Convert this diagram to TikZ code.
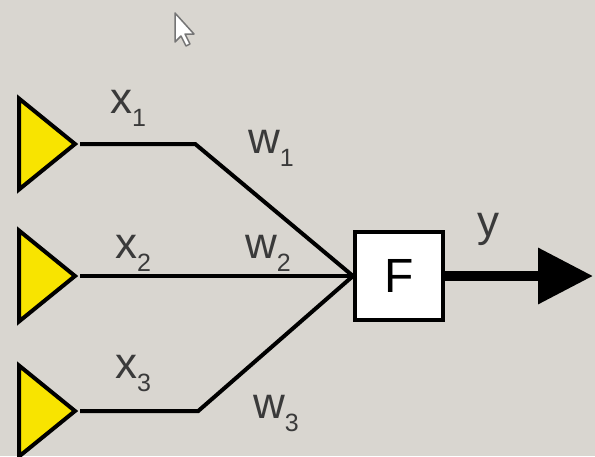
\documentclass[tikz,border=0pt]{standalone}
\usepackage{fontspec}
\setmainfont{Liberation Sans}
\usetikzlibrary{positioning, shapes.geometric, arrows.meta, calc}
\definecolor{nnpaper}{HTML}{D9D6D0}
\definecolor{nnyellow}{HTML}{F8E400}
\definecolor{nntext}{HTML}{3A3A3A}
\newcommand{\withidx}[2]{#1\raisebox{-13pt}{\fontsize{25}{25}\selectfont #2}}

\begin{document}
\begin{tikzpicture}[x=1pt, y=-1pt, font=\fontsize{44}{48}\selectfont,
    inp/.style={isosceles triangle, isosceles triangle stretches, shape border rotate=0,
                fill=nnyellow, draw=black, line width=4pt, line join=miter,
                minimum width=91pt, minimum height=56pt, inner sep=0pt, anchor=lower side},
    unit/.style={draw=black, fill=white, line width=4pt, minimum size=88pt, inner sep=0pt,
                 font=\fontsize{48}{50}\selectfont},
    lbl/.style={text=nntext, anchor=base west, inner sep=0pt},
    wire/.style={line width=4pt, line join=miter}]
    \useasboundingbox (0,0) rectangle (595,456);
    \clip (0,0) rectangle (595,456);
    \fill[nnpaper] (0,0) rectangle (595,456);
    % mouse pointer
    \draw[nntext!70, fill=white, line width=1.5pt, line join=round]
      (175,13) -- (175,42) -- (181,36) -- (186,46) -- (190,44) -- (185,34) -- (194,34) -- cycle;
    % inputs
    \node[inp] (t1) at (17,144) {};
    \node[inp] (t2) at (17,276) {};
    \node[inp] (t3) at (17,411) {};
    \node[unit] (f) at (399,276) {F};
    \coordinate (yend) at (593,276);
    \draw[wire] (t1.apex) -- ++(115,0) -- (f.west);
    \draw[wire] (t2.apex) -- (f.west);
    \draw[wire] (t3.apex) -- ++(118,0) -- (f.west);
    \draw[line width=10pt, -{Triangle[length=55pt, width=54pt]}] (f.east) -- (yend);
    % labels
    \node[lbl] (x1) at (110,113) {\withidx{x}{1}};
    \node[lbl] (w1) at (248,153) {\withidx{w}{1}};
    \node[lbl] (x2) at (115,258) {\withidx{x}{2}};
    \node[lbl] (w2) at (245,258) {\withidx{w}{2}};
    \node[lbl] (x3) at (115,378) {\withidx{x}{3}};
    \node[lbl] (w3) at (253,418) {\withidx{w}{3}};
    \node[lbl] (y) at (477,236) {y};
\end{tikzpicture}
\end{document}
